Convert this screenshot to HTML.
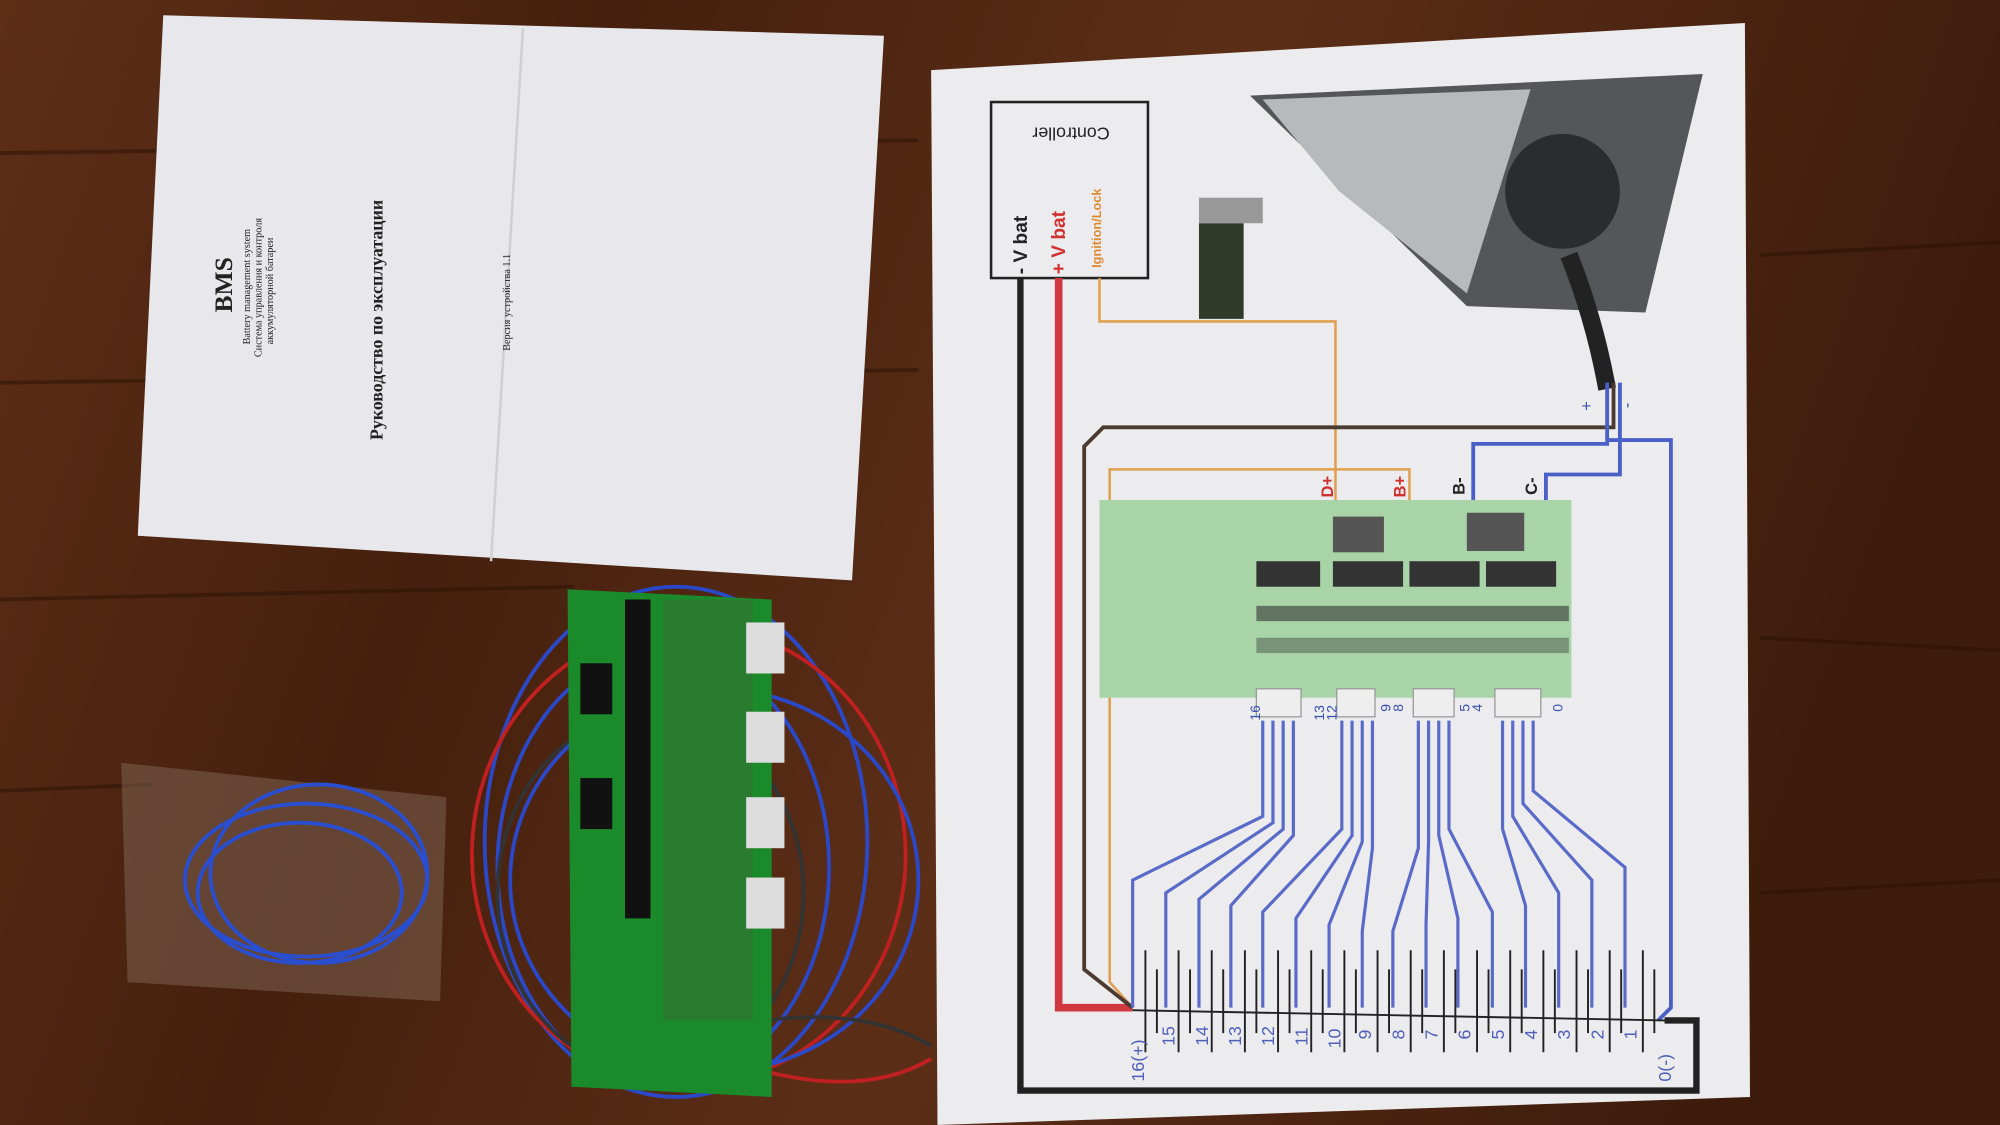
<!DOCTYPE html>
<html><head><meta charset="utf-8"><style>
html,body{margin:0;padding:0;background:#4a2412;overflow:hidden}
svg{display:block}
</style></head><body>
<svg width="2000" height="1125" viewBox="0 0 1568 882" xmlns="http://www.w3.org/2000/svg" font-family="Liberation Sans, sans-serif">
<defs>
<linearGradient id="wood" x1="0" y1="0" x2="1" y2="0.2">
<stop offset="0" stop-color="#5e2e17"/><stop offset="0.3" stop-color="#45200e"/><stop offset="0.6" stop-color="#5c2e17"/><stop offset="1" stop-color="#3e1c0c"/>
</linearGradient>
</defs>
<rect width="1568" height="882" fill="url(#wood)"/>
<g stroke="#2a1206" stroke-width="3" opacity="0.5">
<path d="M0 120 L720 110"/><path d="M0 300 L720 290"/><path d="M0 470 L450 460"/><path d="M0 620 L120 615"/><path d="M1380 200 L1568 190"/><path d="M1380 500 L1568 510"/><path d="M1380 700 L1568 690"/>
</g>
<polygon points="128,12 693,28 668,455 108,420" fill="#e8e8ec"/>
<line x1="410" y1="22" x2="385" y2="440" stroke="#cfcfd4" stroke-width="2"/>
<g fill="#222" font-family="Liberation Serif, serif">
<text transform="translate(182,245) rotate(-90)" font-size="20" font-weight="bold">BMS</text>
<text transform="translate(196,270) rotate(-90)" font-size="8">Battery management system</text>
<text transform="translate(205,280) rotate(-90)" font-size="8">Система управления и контроля</text>
<text transform="translate(214,270) rotate(-90)" font-size="8">аккумуляторной батареи</text>
<text transform="translate(300,345) rotate(-90)" font-size="14" font-weight="bold">Руководство по эксплуатации</text>
<text transform="translate(400,275) rotate(-90)" font-size="8">Версия устройства 1.1</text>
</g>
<polygon points="95,598 350,625 345,785 100,770" fill="#8a6e60" opacity="0.45"/>
<g fill="none" stroke="#2a4ed0" stroke-width="3">
<ellipse cx="240" cy="690" rx="95" ry="60"/><ellipse cx="235" cy="700" rx="80" ry="55"/><ellipse cx="250" cy="685" rx="85" ry="70"/>
</g>
<g fill="none" stroke-width="3">
<ellipse cx="530" cy="660" rx="150" ry="200" stroke="#2a48c8"/>
<ellipse cx="520" cy="680" rx="130" ry="170" stroke="#2a48c8"/>
<ellipse cx="540" cy="670" rx="170" ry="180" stroke="#c02020"/>
<ellipse cx="510" cy="700" rx="120" ry="140" stroke="#333"/>
<ellipse cx="560" cy="690" rx="160" ry="150" stroke="#2a48c8"/>
<path d="M600 800 Q680 790 730 820" stroke="#333"/>
<path d="M600 840 Q680 860 730 830" stroke="#c02020"/>
</g>
<polygon points="445,462 605,470 605,860 448,852" fill="#1a8a2a"/>
<rect x="490" y="470" width="20" height="250" fill="#111"/>
<rect x="520" y="470" width="70" height="330" fill="#2a7a30"/>
<g fill="#ddd">
<rect x="585" y="488" width="30" height="40"/><rect x="585" y="558" width="30" height="40"/><rect x="585" y="625" width="30" height="40"/><rect x="585" y="688" width="30" height="40"/>
</g>
<rect x="455" y="520" width="25" height="40" fill="#111"/><rect x="455" y="610" width="25" height="40" fill="#111"/>
<polygon points="730,55 1368,18 1372,860 735,882" fill="#ecebed"/>
<polygon points="980,75 1335,58 1290,245 1150,240" fill="#55565a"/>
<polygon points="990,78 1200,70 1150,230 1050,150" fill="#b8b9bc"/>
<circle cx="1225" cy="150" r="45" fill="#2b2c30"/>
<path d="M1230 200 Q1250 250 1260 305" stroke="#222" stroke-width="14" fill="none"/>
<rect x="940" y="175" width="35" height="75" fill="#2f3a28"/>
<rect x="940" y="155" width="50" height="20" fill="#999"/>
<rect x="777" y="80" width="123" height="138" fill="none" stroke="#222" stroke-width="2"/>
<text transform="translate(870,100) rotate(180)" font-size="14" fill="#222">Controller</text>
<text transform="translate(805,215) rotate(-90)" font-size="15" font-weight="bold" fill="#222">- V bat</text>
<text transform="translate(835,215) rotate(-90)" font-size="15" font-weight="bold" fill="#d03030">+ V bat</text>
<text transform="translate(863,210) rotate(-90)" font-size="10" font-weight="bold" fill="#e08a30">Ignition/Lock</text>
<path d="M800 218 L800 855 L1330 855 L1330 800 L1305 800" stroke="#222" stroke-width="5" fill="none"/>
<path d="M830 218 L830 790 L888 790" stroke="#d03840" stroke-width="6" fill="none"/>
<path d="M862 218 L862 252 L1047 252 L1047 405" stroke="#e0a050" stroke-width="2" fill="none"/>
<path d="M1105 405 L1105 368 L870 368 L870 770 L888 790" stroke="#e0a050" stroke-width="2" fill="none"/>
<path d="M1265 300 L1265 335 L865 335 L850 350 L850 760 L888 790" stroke="#4a3a30" stroke-width="3" fill="none"/>
<path d="M1260 300 L1260 348 L1155 348 L1155 405" stroke="#4a60c8" stroke-width="3" fill="none"/>
<path d="M1270 300 L1270 372 L1212 372 L1212 405" stroke="#4a60c8" stroke-width="3" fill="none"/>
<path d="M1260 345 L1310 345 L1310 790 L1300 800" stroke="#4a60c8" stroke-width="3" fill="none"/>
<text transform="translate(1248,322) rotate(-90)" font-size="13" fill="#3a50b0">+</text>
<text transform="translate(1280,320) rotate(-90)" font-size="13" fill="#3a50b0">-</text>
<rect x="862" y="392" width="370" height="155" fill="#a8d4a8"/>
<g fill="#333"><rect x="985" y="440" width="50" height="20"/><rect x="1045" y="440" width="55" height="20"/><rect x="1105" y="440" width="55" height="20"/><rect x="1165" y="440" width="55" height="20"/>
<rect x="985" y="475" width="245" height="12" opacity="0.6"/><rect x="985" y="500" width="245" height="12" opacity="0.4"/></g>
<rect x="1045" y="405" width="40" height="28" fill="#555"/><rect x="1150" y="402" width="45" height="30" fill="#555"/>
<g fill="#eee" stroke="#999"><rect x="985" y="540" width="35" height="22"/><rect x="1048" y="540" width="30" height="22"/><rect x="1108" y="540" width="32" height="22"/><rect x="1172" y="540" width="36" height="22"/></g>
<g font-size="13" font-weight="bold" fill="#d03030">
<text transform="translate(1045,390) rotate(-90)">D+</text><text transform="translate(1102,390) rotate(-90)">B+</text>
</g>
<g font-size="13" font-weight="bold" fill="#222">
<text transform="translate(1148,388) rotate(-90)">B-</text><text transform="translate(1205,388) rotate(-90)">C-</text>
</g>
<g font-size="11" fill="#3a50b0">
<text transform="translate(988,565) rotate(-90)">16</text><text transform="translate(1038,565) rotate(-90)">13</text><text transform="translate(1048,565) rotate(-90)">12</text>
<text transform="translate(1090,558) rotate(-90)">9</text><text transform="translate(1100,558) rotate(-90)">8</text>
<text transform="translate(1152,558) rotate(-90)">5</text><text transform="translate(1162,558) rotate(-90)">4</text><text transform="translate(1225,558) rotate(-90)">0</text>
</g>
<g stroke="#5a6ac8" stroke-width="2.5" fill="none">
<path d="M990 565 L990 640 L888 690 L888 790"/>
<path d="M998 565 L998 645 L914 700 L914 790"/>
<path d="M1006 565 L1006 650 L940 705 L940 790"/>
<path d="M1014 565 L1014 655 L965 710 L965 790"/>
<path d="M1052 565 L1052 650 L990 715 L990 790"/>
<path d="M1060 565 L1060 655 L1016 720 L1016 790"/>
<path d="M1068 565 L1068 660 L1042 725 L1042 790"/>
<path d="M1076 565 L1076 665 L1068 730 L1068 790"/>
<path d="M1112 565 L1112 665 L1092 730 L1092 790"/>
<path d="M1120 565 L1120 660 L1118 725 L1118 790"/>
<path d="M1128 565 L1128 655 L1143 720 L1143 790"/>
<path d="M1136 565 L1136 650 L1170 715 L1170 790"/>
<path d="M1178 565 L1178 650 L1196 710 L1196 790"/>
<path d="M1186 565 L1186 640 L1222 700 L1222 790"/>
<path d="M1194 565 L1194 630 L1248 690 L1248 790"/>
<path d="M1202 565 L1202 620 L1274 680 L1274 790"/>
</g>
<g stroke="#222" stroke-width="1.5">
<line x1="888" y1="792" x2="1305" y2="800"/>
<path d="M898 745 V825 M907 760 V810 M924 745 V825 M933 760 V810 M950 745 V825 M959 760 V810 M976 745 V825 M985 760 V810 M1002 745 V825 M1011 760 V810 M1028 745 V825 M1037 760 V810 M1054 745 V825 M1063 760 V810 M1080 745 V825 M1089 760 V810 M1106 745 V825 M1115 760 V810 M1132 745 V825 M1141 760 V810 M1158 745 V825 M1167 760 V810 M1184 745 V825 M1193 760 V810 M1210 745 V825 M1219 760 V810 M1236 745 V825 M1245 760 V810 M1262 745 V825 M1271 760 V810 M1288 745 V825 M1297 760 V810"/>
</g>
<g font-size="14" fill="#5060b8">
<text transform="translate(897,848) rotate(-90)">16(+)</text>
<text transform="translate(921,820) rotate(-90)">15</text><text transform="translate(947,820) rotate(-90)">14</text><text transform="translate(973,820) rotate(-90)">13</text>
<text transform="translate(999,820) rotate(-90)">12</text><text transform="translate(1025,820) rotate(-90)">11</text><text transform="translate(1051,822) rotate(-90)">10</text>
<text transform="translate(1075,815) rotate(-90)">9</text><text transform="translate(1101,815) rotate(-90)">8</text><text transform="translate(1127,815) rotate(-90)">7</text>
<text transform="translate(1153,815) rotate(-90)">6</text><text transform="translate(1179,815) rotate(-90)">5</text><text transform="translate(1205,815) rotate(-90)">4</text>
<text transform="translate(1231,815) rotate(-90)">3</text><text transform="translate(1257,815) rotate(-90)">2</text><text transform="translate(1283,815) rotate(-90)">1</text>
<text transform="translate(1310,848) rotate(-90)">0(-)</text>
</g>
</svg>
</body></html>
